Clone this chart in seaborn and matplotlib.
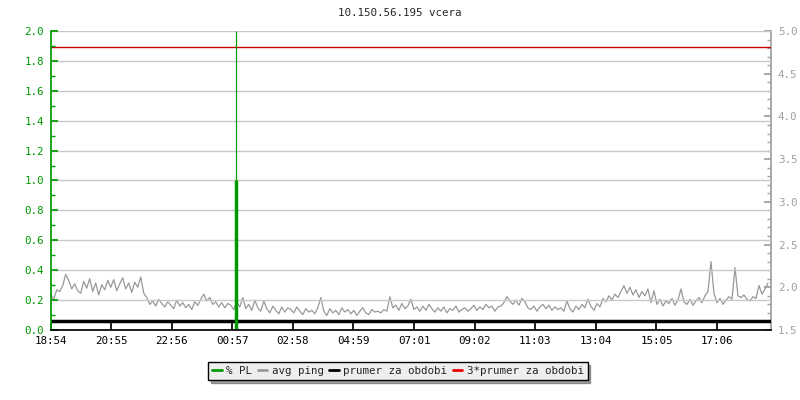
import pandas as pd
import numpy as np
import matplotlib
matplotlib.use("Agg")
import matplotlib.pyplot as plt
import seaborn as sns
from matplotlib.lines import Line2D
from matplotlib.ticker import MultipleLocator, FormatStrFormatter

sns.set_theme(style="white")
plt.rcParams['font.family'] = ['DejaVu Sans Mono']

# data: minutes since 18:54, one ping sample every 6 minutes
tick_minutes = [0, 121, 242, 363, 484, 605, 727, 848, 969, 1090, 1211, 1332]
tick_labels = ["18:54", "20:55", "22:56", "00:57", "02:58", "04:59",
               "07:01", "09:02", "11:03", "13:04", "15:05", "17:06"]

avg_ping = [
    1.92, 1.86, 1.97, 1.95, 2.02, 2.15, 2.08, 1.98, 2.04, 1.96,
    1.93, 2.07, 1.99, 2.10, 1.95, 2.05, 1.91, 2.03, 1.97, 2.08,
    2.00, 2.09, 1.96, 2.04, 2.11, 1.98, 2.05, 1.94, 2.06, 2.00,
    2.12, 1.93, 1.88, 1.80, 1.84, 1.78, 1.86, 1.81, 1.77, 1.83,
    1.79, 1.75, 1.85, 1.78, 1.82, 1.76, 1.80, 1.74, 1.83, 1.79,
    1.86, 1.92, 1.84, 1.88, 1.80, 1.83, 1.77, 1.82, 1.76, 1.81,
    1.79, 1.74, 1.83, 1.77, 1.88, 1.75, 1.80, 1.73, 1.85, 1.76,
    1.72, 1.84, 1.75, 1.70, 1.78, 1.73, 1.69, 1.77, 1.71, 1.76,
    1.74, 1.70, 1.77, 1.72, 1.68, 1.75, 1.71, 1.73, 1.69, 1.76,
    1.88, 1.72, 1.67, 1.75, 1.70, 1.73, 1.68, 1.76, 1.71, 1.74,
    1.69, 1.73, 1.67, 1.72, 1.76, 1.70, 1.68, 1.74, 1.71, 1.72,
    1.70, 1.74, 1.72, 1.89, 1.76, 1.79, 1.73, 1.81, 1.75, 1.78,
    1.86, 1.74, 1.77, 1.72, 1.78, 1.73, 1.80, 1.75, 1.71, 1.76,
    1.72, 1.77, 1.70, 1.75, 1.73, 1.78, 1.71, 1.74, 1.76, 1.72,
    1.75, 1.79, 1.73, 1.77, 1.74, 1.80, 1.76, 1.78, 1.72, 1.77,
    1.78, 1.82, 1.89, 1.84, 1.80, 1.85, 1.79, 1.87, 1.83, 1.76,
    1.74, 1.78, 1.72, 1.77, 1.80, 1.75, 1.79, 1.73, 1.77, 1.74,
    1.76, 1.72, 1.84, 1.75, 1.71, 1.78, 1.74, 1.80, 1.76, 1.86,
    1.78, 1.73, 1.81, 1.77, 1.87, 1.83, 1.90, 1.85, 1.92, 1.88,
    1.95, 2.02, 1.93, 2.00, 1.91, 1.97, 1.88, 1.95, 1.90, 1.98,
    1.82, 1.96, 1.80, 1.86, 1.78, 1.84, 1.81, 1.87, 1.79, 1.85,
    1.98, 1.83, 1.80, 1.86, 1.79, 1.84, 1.88, 1.82, 1.90, 1.95,
    2.30, 1.93, 1.82, 1.87, 1.80, 1.85, 1.89, 1.86, 2.23, 1.90,
    1.88, 1.91, 1.86, 1.84, 1.89, 1.87, 2.02, 1.92, 1.98, 2.05,
]
ping_minutes = [i * 6 for i in range(len(avg_ping))]

pl_spike_minute = 370
pl_spike_value = 1.0
prumer = 1.605
prumer3 = 3 * prumer

df = pd.DataFrame({"t": ping_minutes, "ping": avg_ping})

green = "#009900"
grey = "#999999"
axis_grey = "#a0a0a0"
fs = 7.8

fig = plt.figure(figsize=(8, 4), dpi=100)
ax = fig.add_axes([50.7 / 800, 70 / 400, 720.3 / 800, 299 / 400])
ax2 = ax.twinx()

# ping on right axis
sns.lineplot(data=df, x="t", y="ping", ax=ax2, color=grey, lw=0.9)
ax2.axhline(prumer, color="black", lw=2.5, zorder=5)
ax2.axhline(prumer3, color="#cc0000", lw=1, zorder=5)
ax2.set_ylim(1.5, 5.0)
ax2.set_ylabel("")
ax2.yaxis.set_major_locator(MultipleLocator(0.5))
ax2.yaxis.set_minor_locator(MultipleLocator(0.1))
ax2.tick_params(axis="y", which="both", direction="in", colors=axis_grey,
                labelcolor=axis_grey, labelsize=fs, pad=5, right=True)
ax2.tick_params(axis="y", which="major", length=5)
ax2.tick_params(axis="y", which="minor", length=3)

# packet loss on left axis, drawn on top
ax.set_zorder(ax2.get_zorder() + 1)
ax.patch.set_visible(False)
ax.vlines([pl_spike_minute], 0, [pl_spike_value], color=green, lw=2.5)
ax.vlines([pl_spike_minute], pl_spike_value, 2.0, color=green, lw=0.9)
ax.set_ylim(0, 2.0)
ax.set_xlim(0, 1440)
ax.yaxis.set_major_locator(MultipleLocator(0.2))
ax.yaxis.set_minor_locator(MultipleLocator(0.1))
ax.yaxis.set_major_formatter(FormatStrFormatter("%.1f"))
ax.grid(axis="y", which="major", color="#c8c8c8", lw=1)
ax.set_axisbelow(True)
ax.tick_params(axis="y", which="both", direction="in", colors=green,
               labelcolor=green, labelsize=fs, pad=5, left=True)
ax.tick_params(axis="y", which="major", length=5)
ax.tick_params(axis="y", which="minor", length=3)
ax.set_xticks(tick_minutes)
ax.set_xticklabels(tick_labels)
ax.tick_params(axis="x", direction="in", length=5, colors="black", labelsize=fs, pad=4, bottom=True)
ax2.set_xlim(0, 1440)

for a in (ax, ax2):
    a.spines["top"].set_visible(False)
ax.spines["left"].set_color(green)
ax.spines["bottom"].set_color("black")
ax.spines["right"].set_visible(False)
ax2.spines["left"].set_visible(False)
ax2.spines["bottom"].set_visible(False)
ax2.spines["right"].set_color(axis_grey)

fig.text(0.5, 1 - 13 / 400, "10.150.56.195 vcera", ha="center", va="center", fontsize=fs)

handles = [Line2D([], [], color=green, lw=2),
           Line2D([], [], color=grey, lw=2),
           Line2D([], [], color="black", lw=2),
           Line2D([], [], color="#ee0000", lw=2)]
labels = ["% PL", "avg ping", "prumer za obdobi", "3*prumer za obdobi"]
leg = fig.legend(handles, labels, loc="center", bbox_to_anchor=(398 / 800, 1 - 371 / 400),
                 ncol=4, fontsize=fs, frameon=True, fancybox=False, shadow=True,
                 handlelength=0.9, handletextpad=0.4, columnspacing=0.5,
                 borderpad=0.35, borderaxespad=0)
leg.get_frame().set_edgecolor("black")
leg.get_frame().set_facecolor("#eeeeee")
leg.get_frame().set_linewidth(1)

fig.savefig("out.png", dpi=100)
